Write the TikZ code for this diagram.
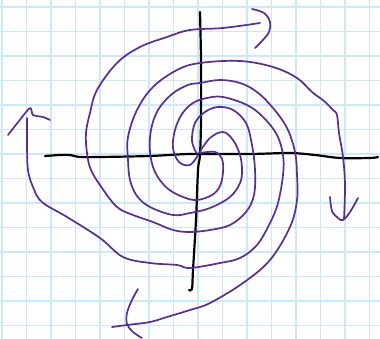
\documentclass[tikz,border=0pt]{standalone}
\usepackage{tikz}
\usepackage{xcolor}
\definecolor{penpurple}{RGB}{88,45,152}
\definecolor{gridblue}{RGB}{204,232,250}

\begin{document}
\begin{tikzpicture}[x=1pt, y=-1pt,
    gridline/.style={gridblue, line width=1.6pt},
    axisline/.style={black, line width=2.2pt, line cap=round, line join=round},
    orbit/.style={penpurple, line width=1.7pt, line cap=round, line join=round}]
  \useasboundingbox (0,0) rectangle (380,339);
  \fill[white] (0,0) rectangle (380,339);
  \foreach \gx in {0,...,15} \draw[gridline] (2+24.5*\gx,0) -- (2+24.5*\gx,339);
  \foreach \gy in {0,...,13} \draw[gridline] (0,7+24.5*\gy) -- (380,7+24.5*\gy);
  \draw[axisline] plot[smooth, tension=0.5] coordinates {(45,156) (60,155) (70,155) (80,157) (100,157) (150,156) (190,154) (250,154) (290,153) (315,155) (340,158) (370,158) (378,157)};
  \draw[axisline] plot[smooth, tension=0.5] coordinates {(200,12) (201,60) (201,120) (200,155) (198,170) (196,220) (193,270) (192,289) (189,290)};
  \draw[orbit] plot[smooth, tension=0.6] coordinates {(197,154) (192,141) (195,123) (205,112) (218,107) (233,110) (246,123) (252,145) (255,170) (254,195) (246,212) (230,225) (210,230) (190,232) (173,230) (153,222) (133,215) (117,207) (102,188) (91,170) (87,153) (86,133) (90,113) (97,90) (117,63) (140,47) (167,37) (190,30) (223,28) (260,23)};
  \draw[orbit] plot[smooth, tension=0.6] coordinates {(252,9) (264,13) (270,22) (269,32) (262,41) (255,48)};
  \draw[orbit] plot[smooth, tension=0.6] coordinates {(199,153) (210,138) (223,132) (233,140) (240,155) (242,170) (240,183) (230,197) (210,208) (190,213) (173,215) (150,207) (137,196) (130,180) (128,160) (128,137) (137,110) (153,87) (177,70) (200,63) (240,61) (273,67) (297,78) (312,92) (324,101) (333,110) (337,115) (339,133) (343,157) (345,185) (344,219)};
  \draw[orbit] plot[smooth, tension=0.6] coordinates {(330,197) (332,211) (338,218) (343,220) (350,212) (358,198)};
  \draw[orbit] plot[smooth, tension=0.6] coordinates {(200,153) (215,152) (222,159) (223,172) (220,186) (212,195) (197,200) (183,197) (167,188) (155,172) (150,152) (151,130) (158,110) (172,94) (188,85) (200,83) (220,80) (240,83) (257,92) (273,108) (287,128) (295,152) (297,175) (297,200) (290,227) (270,260) (243,283) (210,303) (190,310) (167,317) (150,322) (127,325) (112,327)};
  \draw[orbit] plot[smooth, tension=0.6] coordinates {(138,289) (132,300) (127,313) (127,324) (133,332) (142,338)};
  \draw[orbit] plot[smooth, tension=0.6] coordinates {(198,155) (190,165) (179,162) (173,148) (175,130) (182,114) (193,103) (207,98) (223,97) (247,105) (263,117) (277,135) (283,155) (283,175) (278,203) (270,223) (257,245) (240,258) (220,263) (190,268) (177,265) (150,263) (123,257) (100,238) (67,217) (42,202) (33,187) (28,170) (27,145) (27,118)};
  \draw[orbit] plot[smooth, tension=0.5] coordinates {(8,135) (19,121) (30,108) (33,115) (43,117) (50,120)};
\end{tikzpicture}
\end{document}
